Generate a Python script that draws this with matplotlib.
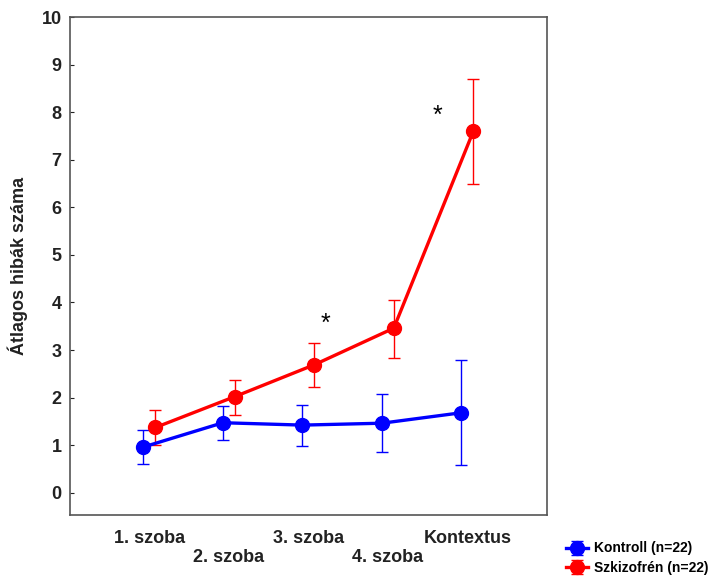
import matplotlib
matplotlib.use("Agg")
import matplotlib.pyplot as plt
import numpy as np

plt.rcParams['font.family'] = ['Liberation Sans', 'DejaVu Sans']

categories = ['1. szoba', '2. szoba', '3. szoba', '4. szoba', 'Kontextus']

kontroll_mean = [0.96, 1.47, 1.42, 1.46, 1.68]
kontroll_lo = [0.60, 1.11, 0.98, 0.86, 0.58]
kontroll_hi = [1.32, 1.83, 1.84, 2.08, 2.79]

szkizo_mean = [1.37, 2.02, 2.69, 3.46, 7.60]
szkizo_lo = [1.00, 1.64, 2.23, 2.84, 6.49]
szkizo_hi = [1.74, 2.36, 3.15, 4.05, 8.70]

star_x = [2.22, 3.63]
star_y = [3.55, 7.92]

fig = plt.figure(figsize=(7.17, 5.76), dpi=100)
ax = fig.add_axes([0.0976, 0.106, 0.665, 0.864])

x = np.arange(len(categories))
off = 0.075

def draw(xs, mean, lo, hi, color, label):
    mean = np.array(mean)
    yerr = [mean - np.array(lo), np.array(hi) - mean]
    return ax.errorbar(xs, mean, yerr=yerr, color=color, lw=2.4, marker='o',
                       markersize=10, elinewidth=1, capsize=4, capthick=1,
                       ecolor=color, label=label)

h1 = draw(x - off, kontroll_mean, kontroll_lo, kontroll_hi, '#0000ff', 'Kontroll (n=22)')
h2 = draw(x + off, szkizo_mean, szkizo_lo, szkizo_hi, '#ff0000', 'Szkizofrén (n=22)')

for sx, sy in zip(star_x, star_y):
    ax.text(sx, sy, '*', fontsize=18, ha='center', va='center', color='black')

ax.set_xlim(-1, 5)
ax.set_ylim(-0.47, 10)
ax.set_yticks(range(0, 11))
ax.set_xticks(x)
ax.set_xticklabels([c if i % 2 == 0 else '\n' + c for i, c in enumerate(categories)],
                   fontsize=13, fontweight='bold', color='#222222', linespacing=1.15)
ax.tick_params(axis='x', length=0, pad=11)
ax.tick_params(axis='y', direction='in', length=3, labelsize=13, pad=6, colors='#222222')
for lab in ax.get_yticklabels():
    lab.set_fontweight('bold')

for s in ax.spines.values():
    s.set_color('#555555')
    s.set_linewidth(1.2)

ax.set_ylabel('Átlagos hibák száma', fontsize=13, fontweight='bold', color='#222222', labelpad=10)

leg = fig.legend(handles=[h1, h2], loc='lower right', bbox_to_anchor=(1.005, -0.02),
                 frameon=False, prop={'weight': 'bold', 'size': 10},
                 handlelength=1.6, handletextpad=0.4, labelspacing=0.4)

fig.savefig('out.png', dpi=100)
